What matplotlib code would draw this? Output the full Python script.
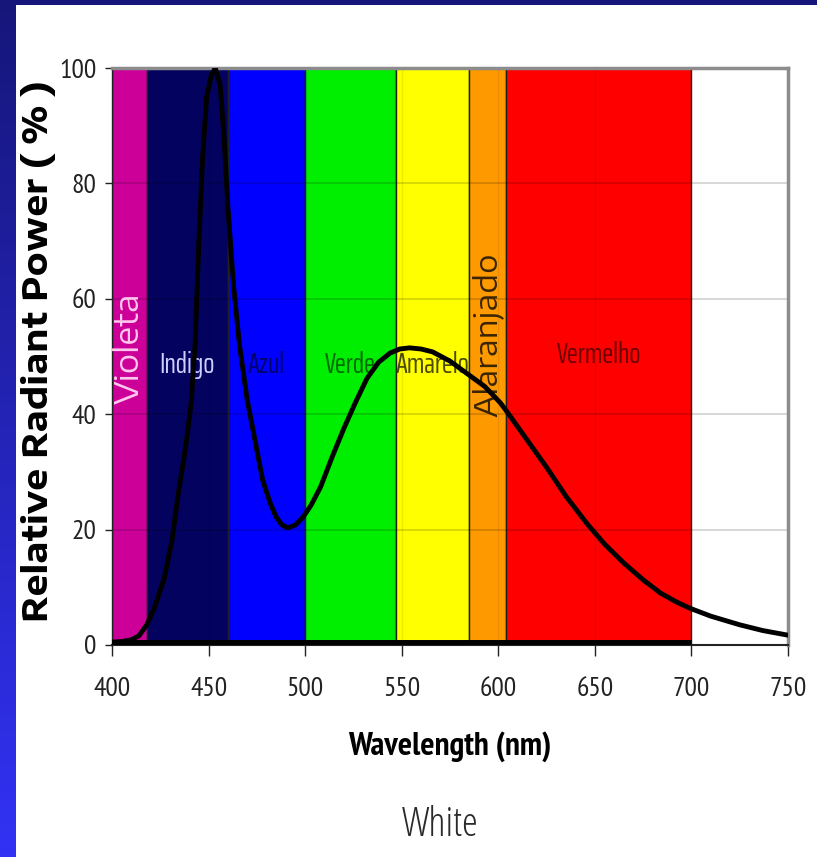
import numpy as np
import matplotlib
matplotlib.use("Agg")
import matplotlib.pyplot as plt
from matplotlib import font_manager

# ---------------- data ----------------
wavelength = [400, 405, 410, 414, 418, 422, 427, 431, 434, 438, 441, 443, 445, 447,
              449, 451.5, 453.5, 456, 458, 460, 463, 466, 470, 475, 478, 482, 485,
              488, 491, 495, 499, 503, 508, 514, 520, 526, 532, 538, 544, 549, 554,
              560, 566, 575, 584, 593, 601, 605, 615, 625, 635, 646, 655, 665, 675,
              684, 692, 699, 710, 725, 737, 750]
power = [0.5, 0.6, 0.9, 1.6, 3.5, 6.5, 11.5, 18, 25.5, 34, 42, 52, 70, 85,
         95, 98.8, 100, 97, 88, 76, 62, 52, 42.5, 33.8, 28.6, 24.5, 22.2,
         20.8, 20.3, 20.8, 22.2, 24.2, 27.4, 32.6, 37.5, 42, 46.2, 49, 50.6, 51.3, 51.5,
         51.3, 50.8, 49.2, 47, 44.8, 42, 40.2, 35.5, 30.8, 25.8, 21, 17.5, 14.2, 11.3,
         9, 7.5, 6.4, 5, 3.5, 2.5, 1.7]

band_names = ["Violeta", "Indigo", "Azul", "Verde", "Amarelo", "Alaranjado", "Vermelho"]
band_start = [400, 418, 460, 500, 547, 585, 604]
band_end = [418, 460, 500, 547, 585, 604, 700]

x_ticks = [400, 450, 500, 550, 600, 650, 700, 750]
y_ticks = [0, 20, 40, 60, 80, 100]

# ---------------- styles ----------------
band_colors = ["#cc0099", "#03035f", "#0000ff", "#00ee00", "#ffff00", "#ff9900", "#ff0000"]
band_text_colors = ["#ffc8ee", "#d0d0ff", "#00006a", "#006a00", "#4a4a00", "#3a2400", "#6a0000"]
band_rot = [90, 0, 0, 0, 0, 90, 0]
band_label_y = [51.5, 48.5, 48.5, 48.5, 48.5, 53.7, 50.3]
band_font_size = [23, 21, 21, 21, 21, 22, 21]

avail = {f.name for f in font_manager.fontManager.ttflist}


def pick(*cands):
    for c in cands:
        if c in avail:
            return c
    return "DejaVu Sans"


NARROW = pick("PT Sans Narrow", "Archivo Narrow", "Roboto Condensed", "Liberation Sans")
TALL = pick("Saira ExtraCondensed", "Oswald", "Barlow Condensed", "PT Sans Narrow")
WIDE = pick("Encode Sans Expanded", "DejaVu Sans")
LIGHT = pick("Open Sans", "PT Sans Narrow")

W, H = 817, 857
fig = plt.figure(figsize=(W / 100, H / 100), dpi=100, facecolor="white")

# frame strips (decor)
strip = fig.add_axes([0, 0, 16 / W, 1])
grad = np.linspace(0, 1, 256)[:, None]
top_c = np.array([22, 22, 122]) / 255
bot_c = np.array([50, 50, 245]) / 255
img = top_c[None, None, :] * (1 - grad[:, :, None]) + bot_c[None, None, :] * grad[:, :, None]
strip.imshow(img, aspect="auto", extent=[0, 1, 0, 1])
strip.axis("off")
topstrip = fig.add_axes([0, 1 - 5 / H, 1, 5 / H])
topstrip.set_facecolor(top_c)
topstrip.set_xticks([]); topstrip.set_yticks([])
for s in topstrip.spines.values():
    s.set_visible(False)

ax = fig.add_axes([112 / W, 1 - 645 / H, (788 - 112) / W, (645 - 68) / H])
ax.set_xlim(400, 750)
ax.set_ylim(0, 100)

for s0, s1, c in zip(band_start, band_end, band_colors):
    ax.axvspan(s0, s1, ymin=0, ymax=1, facecolor=c, edgecolor="#202020", lw=1.0, zorder=1)

# grid lines
for yv in y_ticks[1:-1]:
    ax.axhline(yv, color="black", alpha=0.18, lw=1.2, zorder=2)
for xv in x_ticks[1:-2]:
    ax.axvline(xv, color="black", alpha=0.08, lw=1.0, zorder=2)

for name, s0, s1, tc, rot, ly, fs in zip(band_names, band_start, band_end, band_text_colors,
                                         band_rot, band_label_y, band_font_size):
    xm = (s0 + s1) / 2
    if rot:
        ax.text(xm, ly, name, rotation=rot, ha="center", va="center", color=tc,
                fontsize=fs, family=WIDE, zorder=3)
    else:
        ax.text(xm, ly, name, ha="center", va="center", color=tc,
                fontsize=fs, family=TALL, zorder=3)

# thick dark base line under the bands
ax.plot([band_start[0], band_end[-1]], [0.4, 0.4], color="black", lw=5, zorder=4,
        solid_capstyle="butt")

ax.plot(wavelength, power, color="black", lw=3.5, zorder=5, solid_capstyle="round")

ax.set_xticks(x_ticks)
ax.set_yticks(y_ticks)
ax.set_xticklabels([str(v) for v in x_ticks])
ax.set_yticklabels([str(v) for v in y_ticks])
ax.tick_params(axis="x", direction="out", length=8, width=1, pad=15,
               labelsize=20, colors="#222222")
ax.tick_params(axis="y", direction="out", length=5, width=1, pad=6,
               labelsize=20, colors="#222222")
for lab in ax.get_xticklabels() + ax.get_yticklabels():
    lab.set_family(NARROW)

for side in ("top", "right"):
    ax.spines[side].set_color("#8c8c8c")
    ax.spines[side].set_linewidth(2.5)
ax.spines["left"].set_color("#222222")
ax.spines["left"].set_linewidth(1)
ax.spines["bottom"].set_color("#222222")
ax.spines["bottom"].set_linewidth(1.5)

fig.text(39 / W, 1 - 351 / H, "Relative Radiant Power ( % )", rotation=90,
         ha="center", va="center", fontsize=25, fontweight="bold",
         family=WIDE, color="black")
fig.text(450 / W, 1 - 747 / H, "Wavelength (nm)", ha="center", va="center",
         fontsize=24, fontweight="bold", family=NARROW, color="black")
fig.text(440 / W, 1 - 826 / H, "White", ha="center", va="center",
         fontsize=29, family=LIGHT, fontstretch="condensed", fontweight=300,
         color="#2a2a2a")

fig.savefig("out.png", dpi=100, facecolor="white")
